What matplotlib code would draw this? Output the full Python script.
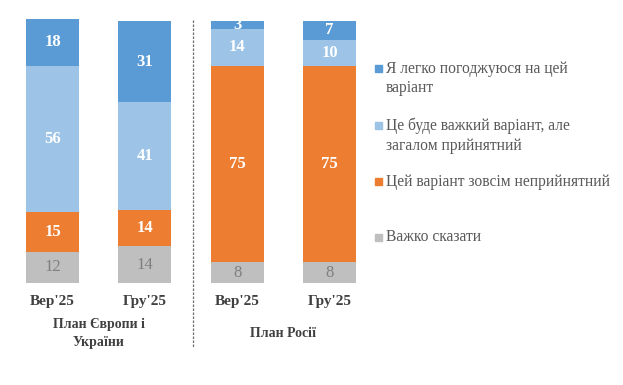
import numpy as np
import matplotlib.pyplot as plt
from matplotlib.patches import Rectangle

plt.rcParams['font.family'] = ['Liberation Serif', 'DejaVu Serif']

# дані
periods = ["Вер'25", "Гру'25", "Вер'25", "Гру'25"]
groups = ["План Європи і\nУкраїни", "План Росії"]
hard_to_say = [12, 14, 8, 8]
unacceptable = [15, 14, 75, 75]
hard_but_ok = [56, 41, 14, 10]
easy_agree = [18, 31, 3, 7]
series_names = ["Важко сказати", "Цей варіант зовсім неприйнятний",
                "Це буде важкий варіант, але\nзагалом прийнятний",
                "Я легко погоджуюся на цей\nваріант"]

colors = ['#BFBFBF', '#ED7D31', '#9DC3E6', '#5B9BD5']
label_colors = ['#7F7F7F', 'white', 'white', 'white']
label_weights = ['normal', 'bold', 'bold', 'bold']

W, H = 623, 385
fig = plt.figure(figsize=(W / 100, H / 100), dpi=100)
ax = fig.add_axes([0, 0.265, 365 / W, 0.68])

x = np.arange(len(periods))
series = [hard_to_say, unacceptable, hard_but_ok, easy_agree]
bottom = np.zeros(len(periods))
for vals, c, lc, lw, name in zip(series, colors, label_colors, label_weights, series_names):
    vals = np.array(vals, dtype=float)
    ax.bar(x, vals, 0.574, bottom=bottom, color=c, label=name, clip_on=False)
    for xi, v, bt in zip(x, vals, bottom):
        ax.text(xi, bt + v / 2, str(int(v)), ha='center', va='center',
                color=lc, fontsize=12, fontweight=lw)
    bottom += vals

ax.set_xlim(-0.569, 3.385)
ax.set_ylim(0, 100)
ax.axis('off')

# підписи під стовпцями
for xi, p in zip(x, periods):
    ax.text(xi, -7, p, ha='center', va='center', fontsize=11,
            fontweight='bold', color='#404040')
ax.text(0.5, -19.3, groups[0], ha='center', va='center', fontsize=10,
        fontweight='bold', color='#404040', linespacing=1.45)
ax.text(2.5, -19.3, groups[1], ha='center', va='center', fontsize=10,
        fontweight='bold', color='#404040')

# роздільна лінія
ax.plot([1.52, 1.52], [100.5, -25], ls=(0, (2, 1.2)), color='#6F6F6F',
        lw=0.9, clip_on=False)

# легенда (вручну, бо відступи між рядками нерівні)
legend_y = [69, 126, 182, 237]  # центр першого рядка, пікселі зверху
for name, c, yy in zip(series_names[::-1], colors[::-1], legend_y):
    fy = 1 - yy / H
    fig.patches.append(Rectangle((375 / W, fy - 3.5 / H), 7 / W, 7 / H,
                                 transform=fig.transFigure, color=c))
    fig.text(386 / W, fy + 8 / H, name, ha='left', va='top', fontsize=11.2,
             color='#595959', linespacing=1.25)

fig.savefig('out.png', dpi=100, facecolor='white')
